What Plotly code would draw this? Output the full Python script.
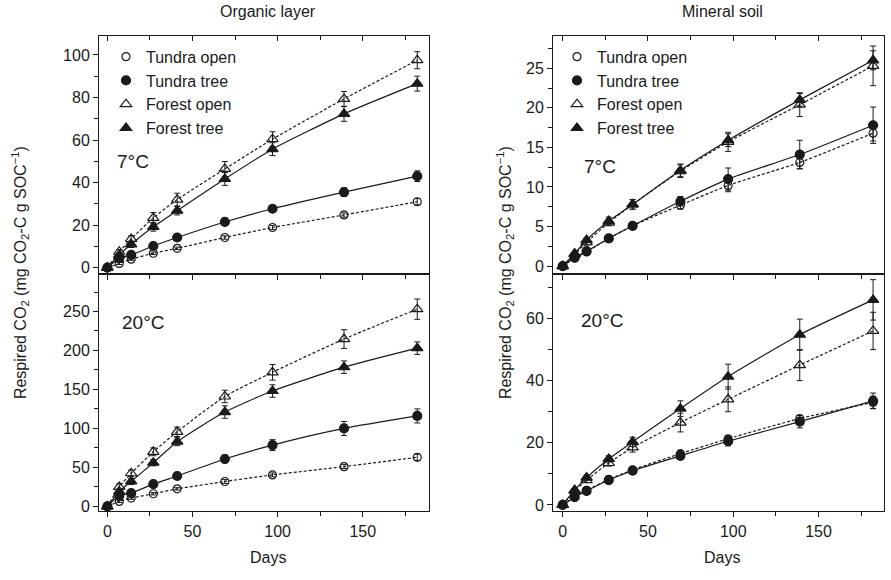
import plotly.graph_objects as go

days = [0, 7, 14, 27, 41, 69, 97, 139, 182]

series_names = ["Tundra open", "Tundra tree", "Forest open", "Forest tree"]

# Organic layer, 7 C
org7_to = [0, 2.0, 4.0, 6.8, 9.1, 14.2, 18.9, 24.8, 31.0]
org7_tt = [0, 4.5, 6.0, 10.2, 14.2, 21.5, 27.7, 35.5, 43.0]
org7_fo = [0, 7.5, 13.5, 23.4, 32.0, 46.4, 60.4, 79.3, 97.5]
org7_ft = [0, 6.0, 11.0, 19.2, 26.8, 41.7, 55.7, 72.3, 86.5]
org7_to_e = [0, 0.5, 0.5, 0.6, 0.6, 0.8, 1.0, 1.0, 1.5]
org7_tt_e = [0, 0.6, 0.6, 1.0, 1.0, 1.0, 1.3, 2.0, 2.5]
org7_fo_e = [0, 1.0, 1.5, 2.5, 3.0, 3.5, 3.5, 3.5, 4.0]
org7_ft_e = [0, 1.0, 1.5, 2.0, 2.0, 3.0, 3.0, 3.5, 3.5]

# Organic layer, 20 C
org20_to = [0, 6.4, 10.6, 16.2, 22.5, 31.9, 40.4, 51.0, 63.0]
org20_tt = [0, 13.6, 17.0, 28.5, 39.0, 60.8, 78.6, 100.0, 116.0]
org20_fo = [0, 25.0, 42.5, 70.0, 95.7, 141.0, 172.0, 214.7, 253.0]
org20_ft = [0, 19.0, 32.0, 56.0, 83.0, 121.0, 148.0, 178.6, 203.0]
org20_to_e = [0, 1.5, 1.5, 1.5, 1.5, 2.5, 2.5, 2.5, 4.0]
org20_tt_e = [0, 2.5, 2.5, 2.5, 2.5, 5.0, 7.0, 9.0, 9.0]
org20_fo_e = [0, 4.0, 4.0, 5.0, 6.0, 8.0, 10.0, 12.0, 13.0]
org20_ft_e = [0, 3.0, 4.0, 4.0, 5.0, 8.0, 8.0, 8.0, 8.0]

# Mineral soil, 7 C
min7_to = [0, 1.0, 1.8, 3.5, 5.1, 7.7, 10.2, 13.1, 16.8]
min7_tt = [0, 1.1, 1.9, 3.5, 5.1, 8.2, 11.0, 14.1, 17.8]
min7_fo = [0, 1.5, 3.0, 5.5, 7.8, 12.0, 15.7, 20.4, 25.3]
min7_ft = [0, 1.6, 3.3, 5.7, 7.8, 12.1, 15.9, 21.0, 26.0]
min7_to_e = [0, 0.2, 0.2, 0.3, 0.3, 0.5, 0.8, 0.8, 1.0]
min7_tt_e = [0, 0.2, 0.3, 0.3, 0.3, 0.6, 1.4, 1.8, 2.3]
min7_fo_e = [0, 0.2, 0.3, 0.4, 0.6, 0.8, 1.2, 1.5, 2.5]
min7_ft_e = [0, 0.2, 0.3, 0.5, 0.6, 0.8, 0.8, 0.8, 1.2]

# Mineral soil, 20 C
min20_to = [0, 2.6, 4.7, 8.2, 11.3, 16.5, 21.3, 27.8, 33.0]
min20_tt = [0, 2.5, 4.5, 8.0, 11.0, 15.8, 20.5, 26.8, 33.5]
min20_fo = [0, 4.5, 8.0, 13.5, 18.5, 26.5, 34.0, 45.0, 56.0]
min20_ft = [0, 4.8, 8.8, 14.8, 20.3, 31.0, 41.3, 54.8, 66.0]
min20_to_e = [0, 0.5, 0.5, 0.5, 0.5, 1.0, 1.0, 1.0, 2.0]
min20_tt_e = [0, 0.5, 0.5, 0.5, 0.8, 1.0, 1.5, 2.0, 2.5]
min20_fo_e = [0, 0.5, 0.8, 1.0, 1.5, 3.0, 4.0, 5.0, 6.0]
min20_ft_e = [0, 0.5, 0.8, 1.0, 1.5, 2.5, 4.0, 5.0, 6.5]

FONT = "Liberation Sans, Arial, Helvetica, sans-serif"
INK = "#1a1a1a"

symbols = ["circle-open", "circle", "triangle-up-open", "triangle-up"]
dashes = ["3px,2px", "solid", "3px,2px", "solid"]
msizes = [8, 9, 10, 10]

panels = [
    ("x", "y", [org7_to, org7_tt, org7_fo, org7_ft], [org7_to_e, org7_tt_e, org7_fo_e, org7_ft_e]),
    ("x2", "y2", [min7_to, min7_tt, min7_fo, min7_ft], [min7_to_e, min7_tt_e, min7_fo_e, min7_ft_e]),
    ("x3", "y3", [org20_to, org20_tt, org20_fo, org20_ft], [org20_to_e, org20_tt_e, org20_fo_e, org20_ft_e]),
    ("x4", "y4", [min20_to, min20_tt, min20_fo, min20_ft], [min20_to_e, min20_tt_e, min20_fo_e, min20_ft_e]),
]

fig = go.Figure()

for xa, ya, vals, errs in panels:
    for i in range(4):
        fig.add_trace(go.Scatter(
            x=days, y=vals[i], mode="lines", xaxis=xa, yaxis=ya,
            line=dict(color=INK, width=1.2, dash=dashes[i], shape="spline", smoothing=0.6),
            showlegend=False, hoverinfo="skip"))
        fig.add_trace(go.Scatter(
            x=days, y=vals[i], mode="markers", xaxis=xa, yaxis=ya,
            marker=dict(symbol=symbols[i], size=msizes[i], color=INK,
                        line=dict(color=INK, width=1.2)),
            error_y=dict(type="data", array=errs[i], visible=True,
                         color=INK, thickness=1, width=3),
            showlegend=False))

for lg in ["legend", "legend2"]:
    for i in range(4):
        fig.add_trace(go.Scatter(
            x=[None], y=[None], mode="markers", name=series_names[i],
            marker=dict(symbol=symbols[i], size=msizes[i], color=INK,
                        line=dict(color=INK, width=1.2)),
            xaxis="x" if lg == "legend" else "x2",
            yaxis="y" if lg == "legend" else "y2",
            legend=lg, showlegend=True))

fig.add_trace(go.Scatter(x=[None], y=[None], xaxis="x5", yaxis="y", showlegend=False))
fig.add_trace(go.Scatter(x=[None], y=[None], xaxis="x6", yaxis="y2", showlegend=False))

W, H = 891, 580
xl = [99 / W, 429 / W]
xr = [553 / W, 884 / W]
yt = [1 - 276 / H, 1 - 36 / H]
yb = [1 - 515 / H, 1 - 276 / H]

xrange_l = [-4.9, 188.9]
xrange_r = [-5.7, 188.4]

tickfont = dict(family=FONT, size=16, color=INK)

def xax(domain, rng, labels, anchor):
    return dict(domain=domain, range=rng, anchor=anchor, tickvals=[0, 50, 100, 150],
                ticks="outside", ticklen=5, tickwidth=1, tickcolor=INK,
                showticklabels=labels, tickfont=tickfont,
                minor=dict(tickvals=[25, 75, 125, 175], ticks="outside", ticklen=4, tickcolor=INK),
                showline=True, linecolor=INK, linewidth=1, mirror=True,
                showgrid=False, zeroline=False)

def xtop(domain, rng, overlay, yanchor):
    return dict(domain=domain, range=rng, overlaying=overlay, side="top", anchor=yanchor,
                tickvals=[0, 50, 100, 150], ticks="inside", ticklen=5, tickcolor=INK,
                showticklabels=False,
                minor=dict(tickvals=[25, 75, 125, 175], ticks="inside", ticklen=4, tickcolor=INK),
                showline=False, showgrid=False, zeroline=False)

def yax(domain, rng, major, minor, anchor):
    return dict(domain=domain, range=rng, anchor=anchor, tickvals=major,
                ticks="outside", ticklen=5, tickwidth=1, tickcolor=INK,
                tickfont=tickfont,
                minor=dict(tickvals=minor, ticks="outside", ticklen=4, tickcolor=INK),
                showline=True, linecolor=INK, linewidth=1, mirror=True,
                showgrid=False, zeroline=False)

fig.update_layout(
    width=W, height=H,
    margin=dict(l=0, r=0, t=0, b=0),
    paper_bgcolor="white", plot_bgcolor="white",
    font=dict(family=FONT, size=16, color=INK),
    xaxis=xax(xl, xrange_l, False, "y"),
    xaxis2=xax(xr, xrange_r, False, "y2"),
    xaxis3=xax(xl, xrange_l, True, "y3"),
    xaxis4=xax(xr, xrange_r, True, "y4"),
    xaxis5=xtop(xl, xrange_l, "x", "y"),
    xaxis6=xtop(xr, xrange_r, "x2", "y2"),
    yaxis=yax(yt, [-3, 109], [0, 20, 40, 60, 80, 100], [10, 30, 50, 70, 90], "x"),
    yaxis2=yax(yt, [-1, 29.1], [0, 5, 10, 15, 20, 25], [2.5, 7.5, 12.5, 17.5, 22.5, 27.5], "x2"),
    yaxis3=yax(yb, [-6.5, 298], [0, 50, 100, 150, 200, 250], [25, 75, 125, 175, 225, 275], "x3"),
    yaxis4=yax(yb, [-2.1, 74.3], [0, 20, 40, 60], [10, 30, 50, 70], "x4"),
    legend=dict(x=106 / W, y=1 - 40 / H, xanchor="left", yanchor="top",
                bgcolor="rgba(0,0,0,0)", borderwidth=0,
                font=dict(family=FONT, size=16, color=INK), tracegroupgap=0),
    legend2=dict(x=557 / W, y=1 - 40 / H, xanchor="left", yanchor="top",
                 bgcolor="rgba(0,0,0,0)", borderwidth=0,
                 font=dict(family=FONT, size=16, color=INK), tracegroupgap=0),
)

ylabel = "Respired CO<sub>2</sub> (mg CO<sub>2</sub>-C g SOC<sup>\u22121</sup>)"
ann = [
    dict(text="Organic layer", x=268 / W, y=1 - 12 / H, font=dict(size=16)),
    dict(text="Mineral soil", x=722 / W, y=1 - 12 / H, font=dict(size=16)),
    dict(text="Days", x=268 / W, y=1 - 561 / H, font=dict(size=16)),
    dict(text="Days", x=722 / W, y=1 - 561 / H, font=dict(size=16)),
    dict(text=ylabel, x=20 / W, y=1 - 275 / H, textangle=-90, font=dict(size=16)),
    dict(text=ylabel, x=505 / W, y=1 - 275 / H, textangle=-90, font=dict(size=16)),
    dict(text="7\u00b0C", x=133 / W, y=1 - 163 / H, font=dict(size=19)),
    dict(text="20\u00b0C", x=143 / W, y=1 - 325 / H, font=dict(size=19)),
    dict(text="7\u00b0C", x=600 / W, y=1 - 168 / H, font=dict(size=19)),
    dict(text="20\u00b0C", x=602 / W, y=1 - 323 / H, font=dict(size=19)),
]
for a in ann:
    a.update(xref="paper", yref="paper", showarrow=False, xanchor="center", yanchor="middle")
    a["font"].update(family=FONT, color=INK)
fig.update_layout(annotations=ann)

fig.write_html("out.html")
